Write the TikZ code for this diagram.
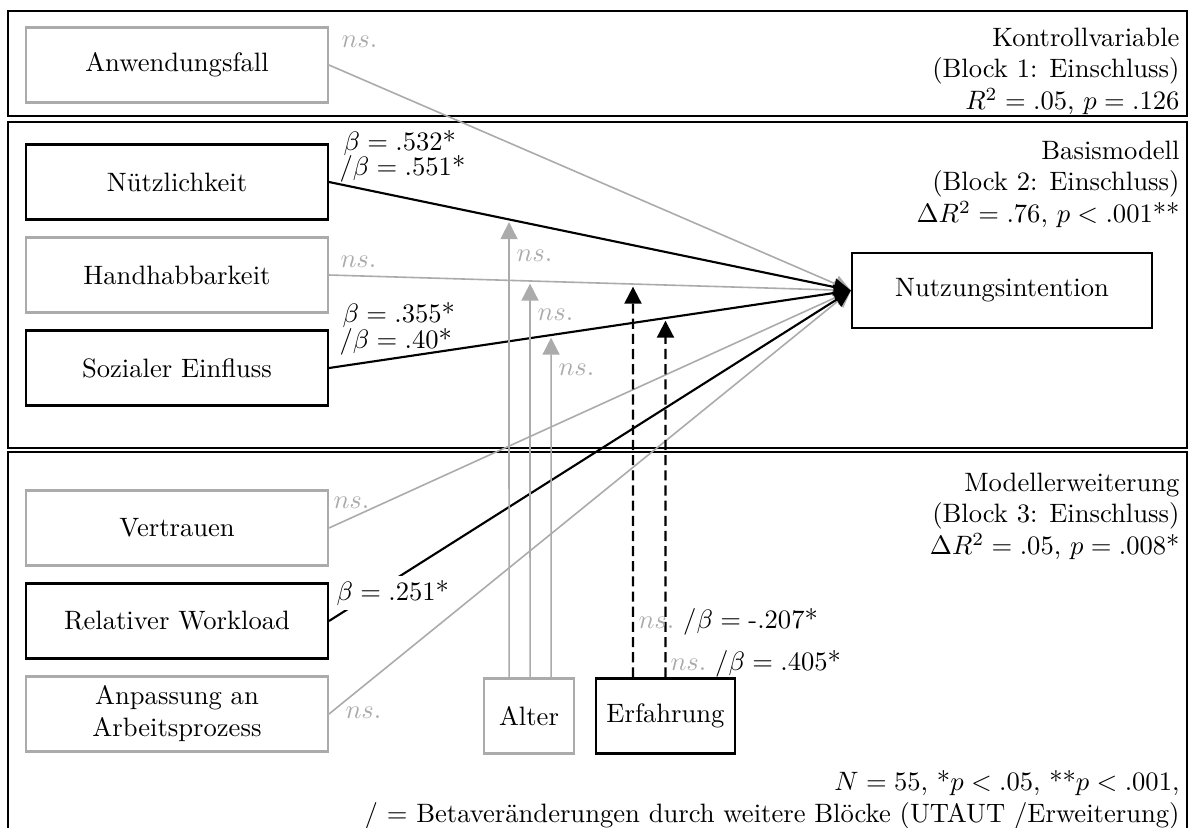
\documentclass[tikz,border=0pt]{standalone}
\usepackage{fontspec}
\usepackage{amsmath, amssymb}
\usetikzlibrary{arrows.meta}

\colorlet{nsgray}{black!33}

\begin{document}
\begin{tikzpicture}[x=0.376pt, y=-0.376pt,
    varbox/.style={thick, minimum width=113.5pt, minimum height=28.2pt, align=center},
    sigbox/.style={varbox, draw=black},
    nsbox/.style={varbox, draw=nsgray},
    effarrow/.style={-{Triangle[length=6.4pt, width=6.4pt]}},
    sigpath/.style={thick, effarrow},
    nspath/.style={semithick, nsgray, effarrow},
    modns/.style={semithick, nsgray, effarrow, shorten >=1pt},
    modsig/.style={thick, effarrow, dash pattern=on 3.8pt off 1.9pt, shorten >=1pt},
    nslab/.style={text=nsgray, inner sep=0pt, anchor=west},
    betalab/.style={inner sep=0pt, anchor=west},
    blocktext/.style={align=right, inner sep=0pt, anchor=north east}]
  \useasboundingbox (0,0) rectangle (1190,827);

  % Blocks (frames)
  \draw[thick] (8,11) rectangle (1187,116);
  \draw[thick] (8,122) rectangle (1187,448);
  \draw[thick] (8,840) -- (8,452) -- (1187,452) -- (1187,840);

  % Variables
  \node[nsbox]  (anw)      at (177,65)    {Anwendungsfall};
  \node[sigbox] (nuetz)    at (177,182)   {Nützlichkeit};
  \node[nsbox]  (hand)     at (177,275)   {Handhabbarkeit};
  \node[sigbox] (sozial)   at (177,368)   {Sozialer Einfluss};
  \node[nsbox]  (vertr)    at (177,528)   {Vertrauen};
  \node[sigbox] (workload) at (177,621)   {Relativer Workload};
  \node[nsbox]  (anpass)   at (177,714)   {Anpassung an\\Arbeitsprozess};
  \node[nsbox, minimum width=33.8pt]  (alter)  at (529,716)   {Alter};
  \node[sigbox, minimum width=52.3pt] (erfahr) at (665.5,716) {Erfahrung};
  \node[sigbox, minimum width=112.8pt] (ziel)  at (1002,290.5) {Nutzungsintention};

  % Start points of the moderator arrows
  \foreach \n/\dx in {a1/-7.5pt, a2/0.4pt, a3/8.3pt} {
    \coordinate (\n) at ([xshift=\dx]alter.north);
    \coordinate (top\n) at ([xshift=\dx]alter.north |- anw.north);
  }
  \foreach \n/\dx in {e1/-12.2pt, e2/0pt} {
    \coordinate (\n) at ([xshift=\dx]erfahr.north);
    \coordinate (top\n) at ([xshift=\dx]erfahr.north |- anw.north);
  }

  % Effects (gray = n.s.)
  \draw[nspath] (anw.east) -- (ziel.west);
  \draw[nspath] (hand.east) -- (ziel.west);
  \draw[nspath] (vertr.east) -- (ziel.west);
  \draw[nspath] (anpass.east) -- (ziel.west);
  \draw[sigpath] (nuetz.east) -- (ziel.west);
  \draw[sigpath] (sozial.east) -- (ziel.west);
  \draw[sigpath] (workload.east) -- (ziel.west);

  % Moderators
  \draw[modns] (a1) -- (intersection of a1--topa1 and nuetz.east--ziel.west);
  \draw[modns] (a2) -- (intersection of a2--topa2 and hand.east--ziel.west);
  \draw[modns] (a3) -- (intersection of a3--topa3 and sozial.east--ziel.west);
  \draw[modsig] (e1) -- (intersection of e1--tope1 and hand.east--ziel.west);
  \draw[modsig] (e2) -- (intersection of e2--tope2 and sozial.east--ziel.west);

  % Labels
  \foreach \x/\y [count=\i] in {341/42, 340/262, 333/503, 345/713, 516/256, 537/315, 558/370}
    \node[nslab] (ns\i) at (\x,\y) {$ns.$};
  \node[betalab] (b1)  at (343,143) {$\beta = .532$*};
  \node[betalab] (b1s) at (339,169) {/$\beta = .551$*};
  \node[betalab] (b2)  at (342,315) {$\beta = .355$*};
  \node[betalab] (b2s) at (339,342) {/$\beta = .40$*};
  \node[betalab, fill=white, inner sep=1.5pt] (b3) at (332,593) {$\beta = .251$*};
  \node[betalab] (m1) at (638,622) {\textcolor{nsgray}{$ns.$} /$\beta = \text{-.207}$*};
  \node[betalab] (m2) at (670,664) {\textcolor{nsgray}{$ns.$} /$\beta = .405$*};

  % Block texts
  \node[blocktext] (k1) at (1180,27)  {Kontrollvariable\\(Block 1: Einschluss)\\$R^2 = .05$, $p = .126$};
  \node[blocktext] (k2) at (1180,140) {Basismodell\\(Block 2: Einschluss)\\$\Delta R^2 = .76$, $p < .001$**};
  \node[blocktext] (k3) at (1180,472) {Modellerweiterung\\(Block 3: Einschluss)\\$\Delta R^2 = .05$, $p = .008$*};
  \node[blocktext] (note) at (1180,770) {$N = 55$, *$p < .05$, **$p < .001$,\\/ $=$ Betaveränderungen durch weitere Blöcke (UTAUT /Erweiterung)};
\end{tikzpicture}
\end{document}
